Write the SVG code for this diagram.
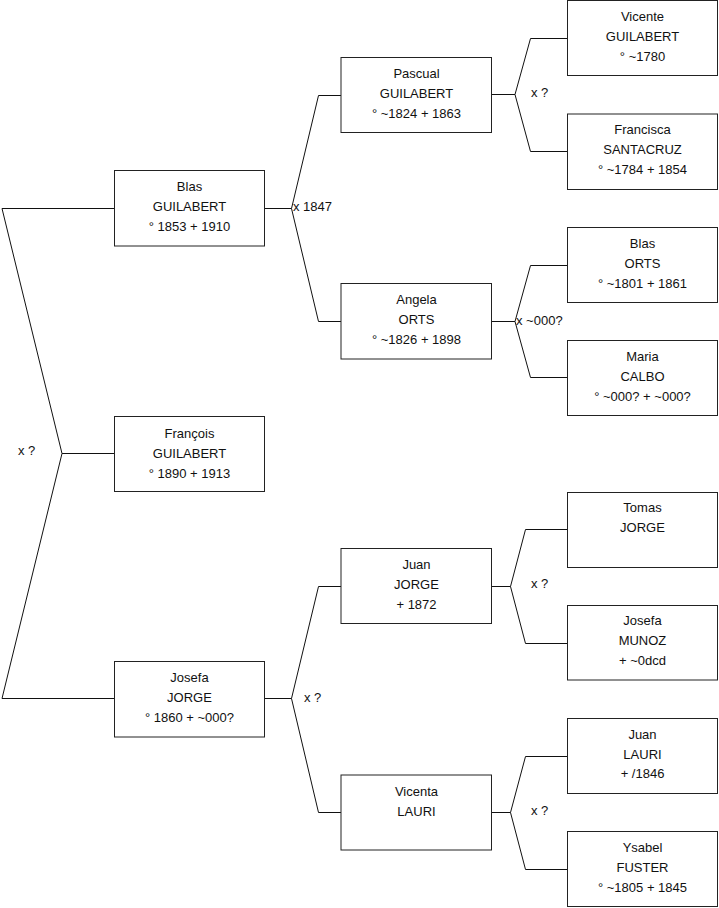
<svg xmlns="http://www.w3.org/2000/svg" width="719" height="908" viewBox="0 0 719 908">
<style>
.box{fill:#fff;stroke:#222;stroke-width:1}
.c{fill:none;stroke:#111;stroke-width:1}
text{font-family:"Liberation Sans",Arial,sans-serif;font-size:13px;fill:#111}
.m{text-anchor:middle}
</style>
<rect width="719" height="908" fill="#fff"/>
<g id="connectors">
<polyline class="c" points="114.5,208.5 2,208.5 62,453.5 2,698.5 114.5,698.5"/>
<line class="c" x1="62" y1="453.5" x2="114.5" y2="453.5"/>
<polyline class="c" points="341,95.5 318.5,95.5 291.5,208.5 318.5,321.5 341,321.5"/>
<line class="c" x1="264.5" y1="208.5" x2="291.5" y2="208.5"/>
<polyline class="c" points="341,586.5 318.5,586.5 291.5,698.5 318.5,812.5 341,812.5"/>
<line class="c" x1="264.5" y1="698.5" x2="291.5" y2="698.5"/>
<polyline class="c" points="567.5,38.5 530.5,38.5 515,94.5 530.5,151.5 567.5,151.5"/>
<line class="c" x1="491.5" y1="94.5" x2="515" y2="94.5"/>
<polyline class="c" points="567.5,265.5 530.5,265.5 515,321.5 530.5,377.5 567.5,377.5"/>
<line class="c" x1="491.5" y1="321.5" x2="515" y2="321.5"/>
<polyline class="c" points="567.5,529.5 525.5,529.5 510.5,586.5 525.5,643.5 567.5,643.5"/>
<line class="c" x1="491.5" y1="586.5" x2="510.5" y2="586.5"/>
<polyline class="c" points="567.5,756.5 525.5,756.5 510.5,812.5 525.5,869.5 567.5,869.5"/>
<line class="c" x1="491.5" y1="812.5" x2="510.5" y2="812.5"/>
<text x="18" y="455">x ?</text>
<text x="293" y="211">x 1847</text>
<text x="304" y="702">x ?</text>
<text x="531" y="97">x ?</text>
<text x="516" y="325">x ~000?</text>
<text x="531" y="588">x ?</text>
<text x="531" y="815">x ?</text>
</g>
<g id="blas_guilabert"><rect class="box" x="114.5" y="170.5" width="150" height="75.5"/><text class="m" x="189.5" y="191">Blas</text><text class="m" x="189.5" y="211">GUILABERT</text><text class="m" x="189.5" y="231">° 1853 + 1910</text></g>
<g id="francois_guilabert"><rect class="box" x="114.5" y="416.5" width="150" height="75"/><text class="m" x="189.5" y="438">François</text><text class="m" x="189.5" y="458">GUILABERT</text><text class="m" x="189.5" y="478">° 1890 + 1913</text></g>
<g id="josefa_jorge"><rect class="box" x="114.5" y="661.5" width="150" height="75.5"/><text class="m" x="189.5" y="682">Josefa</text><text class="m" x="189.5" y="702">JORGE</text><text class="m" x="189.5" y="722">° 1860 + ~000?</text></g>
<g id="pascual_guilabert"><rect class="box" x="341" y="57.5" width="150.5" height="75"/><text class="m" x="416.5" y="78">Pascual</text><text class="m" x="416.5" y="98">GUILABERT</text><text class="m" x="416.5" y="118">° ~1824 + 1863</text></g>
<g id="angela_orts"><rect class="box" x="341" y="283.5" width="150.5" height="75.5"/><text class="m" x="416.5" y="304">Angela</text><text class="m" x="416.5" y="324">ORTS</text><text class="m" x="416.5" y="344">° ~1826 + 1898</text></g>
<g id="juan_jorge"><rect class="box" x="341" y="548.5" width="150.5" height="75"/><text class="m" x="416.5" y="569">Juan</text><text class="m" x="416.5" y="589">JORGE</text><text class="m" x="416.5" y="609">+ 1872</text></g>
<g id="vicenta_lauri"><rect class="box" x="341" y="775" width="150.5" height="75"/><text class="m" x="416.5" y="796">Vicenta</text><text class="m" x="416.5" y="816">LAURI</text></g>
<g id="vicente_guilabert"><rect class="box" x="567.5" y="0.5" width="150" height="75"/><text class="m" x="642.5" y="21">Vicente</text><text class="m" x="642.5" y="41">GUILABERT</text><text class="m" x="642.5" y="61">° ~1780</text></g>
<g id="francisca_santacruz"><rect class="box" x="567.5" y="114" width="150" height="75.5"/><text class="m" x="642.5" y="134">Francisca</text><text class="m" x="642.5" y="154">SANTACRUZ</text><text class="m" x="642.5" y="174">° ~1784 + 1854</text></g>
<g id="blas_orts"><rect class="box" x="567.5" y="227.5" width="150" height="75"/><text class="m" x="642.5" y="248">Blas</text><text class="m" x="642.5" y="268">ORTS</text><text class="m" x="642.5" y="288">° ~1801 + 1861</text></g>
<g id="maria_calbo"><rect class="box" x="567.5" y="340.5" width="150" height="75"/><text class="m" x="642.5" y="361">Maria</text><text class="m" x="642.5" y="381">CALBO</text><text class="m" x="642.5" y="401">° ~000? + ~000?</text></g>
<g id="tomas_jorge"><rect class="box" x="567.5" y="492.5" width="150" height="75"/><text class="m" x="642.5" y="512">Tomas</text><text class="m" x="642.5" y="532">JORGE</text></g>
<g id="josefa_munoz"><rect class="box" x="567.5" y="605.5" width="150" height="74.5"/><text class="m" x="642.5" y="625">Josefa</text><text class="m" x="642.5" y="645">MUNOZ</text><text class="m" x="642.5" y="665">+ ~0dcd</text></g>
<g id="juan_lauri"><rect class="box" x="567.5" y="718.5" width="150" height="75"/><text class="m" x="642.5" y="739">Juan</text><text class="m" x="642.5" y="759">LAURI</text><text class="m" x="642.5" y="778">+ /1846</text></g>
<g id="ysabel_fuster"><rect class="box" x="567.5" y="831.5" width="150" height="75"/><text class="m" x="642.5" y="852">Ysabel</text><text class="m" x="642.5" y="872">FUSTER</text><text class="m" x="642.5" y="892">° ~1805 + 1845</text></g>
</svg>
